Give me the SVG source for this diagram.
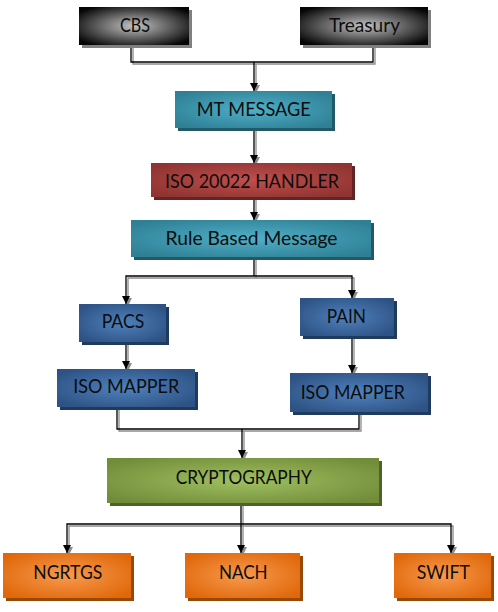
<svg xmlns="http://www.w3.org/2000/svg" width="498" height="612" viewBox="0 0 498 612">
<style>
text{font-family:Lato,"Open Sans","Liberation Sans",sans-serif;font-size:19px;fill:#0d0d0d;text-anchor:middle}
.ln{fill:none;stroke:#000;stroke-width:1.3}
.sh{fill:none;stroke:#8c8c8c;stroke-width:1.3}
.a{marker-end:url(#ab)}
.as{marker-end:url(#ag)}
</style>
<defs>
<marker id="ab" viewBox="0 0 8 8" refX="8" refY="4" markerWidth="8" markerHeight="8" markerUnits="userSpaceOnUse" orient="auto"><path d="M0 0L8 4L0 8z" fill="#000"/></marker>
<marker id="ag" viewBox="0 0 8 8" refX="8" refY="4" markerWidth="8" markerHeight="8" markerUnits="userSpaceOnUse" orient="auto"><path d="M0 0L8 4L0 8z" fill="#8c8c8c"/></marker>
<radialGradient id="gK" cx="0.5" cy="0.5" r="0.62"><stop offset="0" stop-color="#c4c4c4"/><stop offset="1" stop-color="#050505"/></radialGradient>
<radialGradient id="gT" cx="0.5" cy="0.5" r="0.62"><stop offset="0" stop-color="#4fb0c8"/><stop offset="1" stop-color="#2f8095"/></radialGradient>
<radialGradient id="gR" cx="0.5" cy="0.5" r="0.62"><stop offset="0" stop-color="#c04f4c"/><stop offset="1" stop-color="#8f3432"/></radialGradient>
<radialGradient id="gB" cx="0.5" cy="0.5" r="0.62"><stop offset="0" stop-color="#4f81bd"/><stop offset="1" stop-color="#2d5283"/></radialGradient>
<radialGradient id="gG" cx="0.5" cy="0.5" r="0.62"><stop offset="0" stop-color="#a0c060"/><stop offset="1" stop-color="#728d3a"/></radialGradient>
<radialGradient id="gO" cx="0.5" cy="0.5" r="0.62"><stop offset="0" stop-color="#f89a4e"/><stop offset="1" stop-color="#e0680a"/></radialGradient>
</defs>
<rect width="498" height="612" fill="#fff"/>

<g id="connectors">
<path class="sh" d="M133 45V64H375V45"/>
<path class="sh as" d="M256 64V93"/>
<path class="sh as" d="M256 128V165"/>
<path class="sh as" d="M256 197V222"/>
<path class="sh" d="M256 257V278"/>
<path class="sh as" d="M256 278H128V306"/>
<path class="sh as" d="M256 278H354V300"/>
<path class="sh as" d="M128 342V371"/>
<path class="sh as" d="M354 336V375"/>
<path class="sh" d="M119 407V431H361V412"/>
<path class="sh as" d="M244 431V460"/>
<path class="sh as" d="M243 503V555"/>
<path class="sh as" d="M243 526H69V555"/>
<path class="sh as" d="M243 526H453V555"/>

<path class="ln" d="M131 45V62H373V45"/>
<path class="ln a" d="M254 62V91"/>
<path class="ln a" d="M254 128V163"/>
<path class="ln a" d="M254 197V220"/>
<path class="ln" d="M254 257V276"/>
<path class="ln a" d="M254 276H126V304"/>
<path class="ln a" d="M254 276H352V298"/>
<path class="ln a" d="M126 342V369"/>
<path class="ln a" d="M352 336V373"/>
<path class="ln" d="M117 407V429H359V412"/>
<path class="ln a" d="M242 429V458"/>
<path class="ln a" d="M241 503V553"/>
<path class="ln a" d="M241 524H67V553"/>
<path class="ln a" d="M241 524H451V553"/>
</g>

<g id="cbs">
<rect x="82" y="10" width="110" height="38" fill="#7f7f7f"/>
<rect x="79" y="7" width="110" height="38" fill="url(#gK)"/>
<text x="135" y="32" textLength="30" lengthAdjust="spacingAndGlyphs">CBS</text>
</g>
<g id="treasury">
<rect x="303" y="10" width="128" height="38" fill="#7f7f7f"/>
<rect x="300" y="7" width="128" height="38" fill="url(#gK)"/>
<text x="364.5" y="32" textLength="71" lengthAdjust="spacingAndGlyphs">Treasury</text>
</g>
<g id="mt-message">
<rect x="178" y="94" width="157" height="37" fill="#215967"/>
<rect x="175" y="91" width="157" height="37" fill="url(#gT)"/>
<text x="253.7" y="116" textLength="114" lengthAdjust="spacingAndGlyphs">MT MESSAGE</text>
</g>
<g id="iso-handler">
<rect x="154" y="166" width="201" height="34" fill="#632523"/>
<rect x="151" y="163" width="201" height="34" fill="url(#gR)"/>
<text x="252" y="188" textLength="174" lengthAdjust="spacingAndGlyphs">ISO 20022 HANDLER</text>
</g>
<g id="rule-based">
<rect x="134" y="223" width="240" height="37" fill="#215967"/>
<rect x="131" y="220" width="240" height="37" fill="url(#gT)"/>
<text x="251.5" y="245" textLength="172" lengthAdjust="spacingAndGlyphs">Rule Based  Message</text>
</g>
<g id="pacs">
<rect x="82" y="307" width="87" height="38" fill="#1f3a5f"/>
<rect x="79" y="304" width="87" height="38" fill="url(#gB)"/>
<text x="123" y="328" textLength="42.7" lengthAdjust="spacingAndGlyphs">PACS</text>
</g>
<g id="pain">
<rect x="303" y="301" width="94" height="38" fill="#1f3a5f"/>
<rect x="300" y="298" width="94" height="38" fill="url(#gB)"/>
<text x="346.3" y="322.5" textLength="39.3" lengthAdjust="spacingAndGlyphs">PAIN</text>
</g>
<g id="iso-mapper-left">
<rect x="60" y="372" width="138" height="38" fill="#1f3a5f"/>
<rect x="57" y="369" width="138" height="38" fill="url(#gB)"/>
<text x="126.3" y="393" textLength="106" lengthAdjust="spacingAndGlyphs">ISO MAPPER</text>
</g>
<g id="iso-mapper-right">
<rect x="293" y="376" width="138" height="39" fill="#1f3a5f"/>
<rect x="290" y="373" width="138" height="39" fill="url(#gB)"/>
<text x="352.8" y="398.5" textLength="104.3" lengthAdjust="spacingAndGlyphs">ISO MAPPER</text>
</g>
<g id="cryptography">
<rect x="110" y="461" width="272" height="45" fill="#4f6228"/>
<rect x="107" y="458" width="272" height="45" fill="url(#gG)"/>
<text x="243.7" y="483.5" textLength="136" lengthAdjust="spacingAndGlyphs">CRYPTOGRAPHY</text>
</g>
<g id="ngrtgs">
<rect x="6" y="556" width="128" height="45" fill="#984807"/>
<rect x="3" y="553" width="128" height="45" fill="url(#gO)"/>
<text x="67.8" y="578.5" textLength="69" lengthAdjust="spacingAndGlyphs">NGRTGS</text>
</g>
<g id="nach">
<rect x="188" y="556" width="115" height="45" fill="#984807"/>
<rect x="185" y="553" width="115" height="45" fill="url(#gO)"/>
<text x="243.3" y="578.5" textLength="48.7" lengthAdjust="spacingAndGlyphs">NACH</text>
</g>
<g id="swift">
<rect x="397" y="556" width="97" height="45" fill="#984807"/>
<rect x="394" y="553" width="97" height="45" fill="url(#gO)"/>
<text x="443.3" y="578.5" textLength="53.3" lengthAdjust="spacingAndGlyphs">SWIFT</text>
</g>
</svg>
